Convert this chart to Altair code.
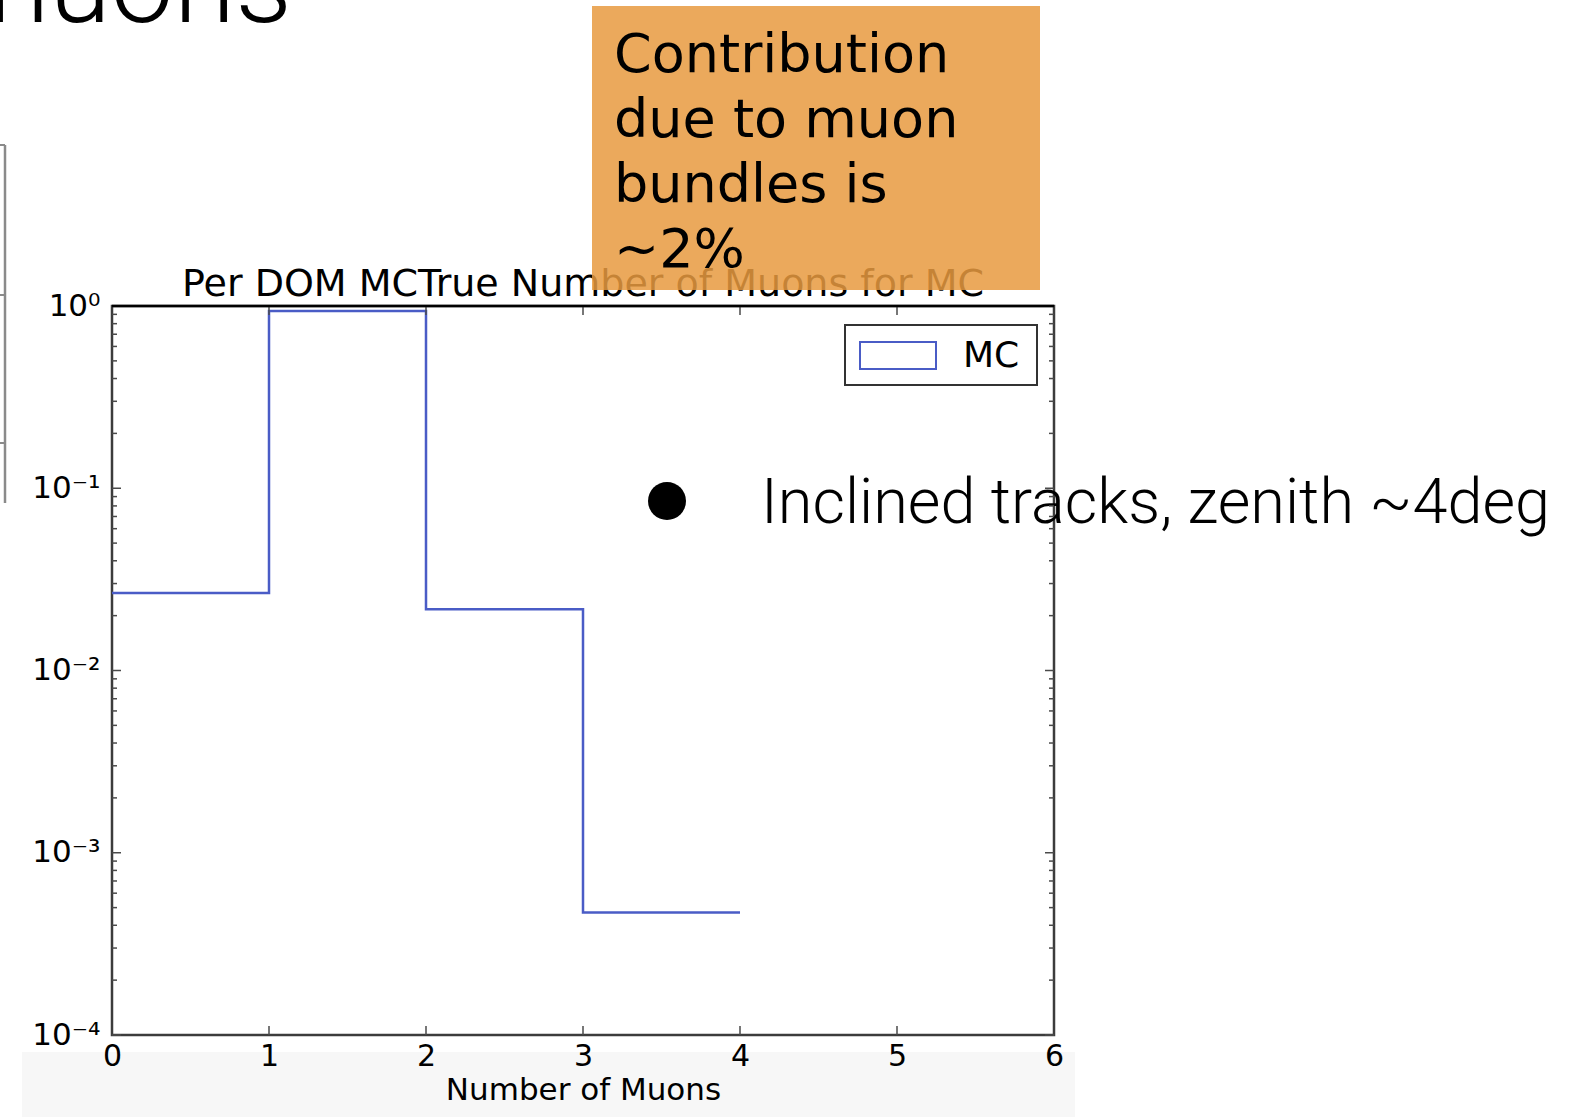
import altair as alt
import pandas as pd

# ---------------- data ----------------
bin_left = [0, 1, 2, 3]
bin_right = [1, 2, 3, 4]
mc_values = [0.0266, 0.94, 0.0217, 0.00047]

x_ticks = [0, 1, 2, 3, 4, 5, 6]
y_major = [1e-4, 1e-3, 1e-2, 1e-1, 1]
y_labels = ["10⁻⁴", "10⁻³", "10⁻²", "10⁻¹", "10⁰"]
minor_mult = [2, 3, 4, 5, 6, 7, 8, 9]
minor_decades = [1e-4, 1e-3, 1e-2, 1e-1]

title_text = "Per DOM MCTrue Number of Muons for MC"
x_title = "Number of Muons"
legend_label = "MC"
box_text = "Contribution\ndue to muon\nbundles is\n~2%"
bullet_text = "Inclined tracks, zenith ~4deg"
slide_title = "muons"

W, H = 942, 729
BLUE = "#4a5cc6"
FONT = "DejaVu Sans"

# step line points built from the bins
step_x = bin_left + [bin_right[-1]]
step_y = mc_values + [mc_values[-1]]
hist_df = pd.DataFrame({"x": step_x, "y": step_y})

minor_vals = [m * d for d in minor_decades for m in minor_mult]
major_df = pd.DataFrame({"y": y_major})
minor_df = pd.DataFrame({"y": minor_vals})
xt_df = pd.DataFrame({"x": x_ticks[1:-1]})

label_expr = " : ".join(
    f"datum.value >= {v * 0.5} ? '{l}'" for v, l in zip(reversed(y_major), reversed(y_labels))
) + " : ''"

one = pd.DataFrame({"t": [""]})

xscale = alt.Scale(domain=[0, 6], nice=False, zero=False)
yscale = alt.Scale(type="log", domain=[1e-4, 1], nice=False)

x_axis = alt.Axis(values=x_ticks, format="d", ticks=False, domain=False,
                  grid=False, labelFont=FONT, labelFontSize=30,
                  labelColor="black", labelPadding=6, labelFlush=False,
                  labelOverlap=False, title=x_title, titleFont=FONT,
                  titleFontSize=31, titleFontWeight="normal",
                  titleColor="black", titlePadding=4, zindex=1)
y_axis = alt.Axis(values=y_major, labelExpr=label_expr, ticks=False,
                  domain=False, grid=False, labelFont=FONT,
                  labelFontSize=31, labelColor="black", labelPadding=12,
                  labelFlush=False, labelOverlap=False,
                  labelBaseline="middle", title=None, zindex=1)


def X():
    return alt.X("x:Q", scale=xscale, axis=x_axis)


def Y():
    return alt.Y("y:Q", scale=yscale, axis=y_axis)


def txt(text, x, y, **kw):
    return alt.Chart(pd.DataFrame({"t": [text]})).mark_text(**kw).encode(
        x=alt.value(x), y=alt.value(y), text="t:N"
    )


def rect(x, x2, y, y2, **kw):
    return alt.Chart(one).mark_rect(**kw).encode(
        x=alt.value(x), x2=alt.value(x2), y=alt.value(y), y2=alt.value(y2)
    )


def vrule(x, y, y2, **kw):
    return alt.Chart(one).mark_rule(**kw).encode(
        x=alt.value(x), y=alt.value(y), y2=alt.value(y2)
    )


def hrule(x, x2, y, **kw):
    return alt.Chart(one).mark_rule(**kw).encode(
        x=alt.value(x), x2=alt.value(x2), y=alt.value(y)
    )


# background band at the bottom
band = rect(-90, 963, 746, 811, fill="#f7f7f7")

# partial frame of another plot on the far left
left_frame = alt.layer(
    vrule(-107, -161, 197, color="#8a8a8a", strokeWidth=2.5),
    hrule(-112, -107, -161, color="#8a8a8a", strokeWidth=2),
    hrule(-112, -107, -11, color="#8a8a8a", strokeWidth=2),
    hrule(-112, -107, 137, color="#8a8a8a", strokeWidth=2),
)

big_title = txt(slide_title, 180, -284, align="right", baseline="alphabetic",
                font="Roboto", fontSize=112, fontWeight=300, color="black")

plot_title = txt(title_text, W / 2, -10, align="center", baseline="alphabetic",
                 font=FONT, fontSize=38, color="black")

orange = rect(480, 928, -300, -16, fill="#e79a3f", opacity=0.85)
orange_txt = txt(box_text, 502, -234, align="left", baseline="alphabetic",
                 font=FONT, fontSize=54, color="black", lineBreak="\n", lineHeight=65)

bullet = alt.Chart(one).mark_point(shape="circle", filled=True, color="black",
                                   opacity=1, size=1444).encode(
    x=alt.value(555), y=alt.value(195))
bullet_t = txt(bullet_text, 649, 217, align="left", baseline="alphabetic",
               font="Roboto", fontSize=63, fontWeight=300, color="black")

hist = alt.Chart(hist_df).mark_line(interpolate="step-after", color=BLUE,
                                    strokeWidth=2.5).encode(x=X(), y=Y())

TICK = "#4a4a4a"


def ytick(df, x, x2):
    return alt.Chart(df).mark_rule(color=TICK, strokeWidth=1.5).encode(
        y=Y(), x=alt.value(x), x2=alt.value(x2))


def xtick(y, y2):
    return alt.Chart(xt_df).mark_rule(color=TICK, strokeWidth=1.5).encode(
        x=X(), y=alt.value(y), y2=alt.value(y2))


ticks = alt.layer(
    ytick(major_df, 0, 9), ytick(minor_df, 0, 5),
    ytick(major_df, W - 9, W), ytick(minor_df, W - 5, W),
    xtick(H - 9, H), xtick(0, 9),
)

top_edge = hrule(0, W, 0, color="black", strokeWidth=2.5)

legend = alt.layer(
    rect(733, 925, 19, 79, fill="white", stroke="#333333", strokeWidth=2),
    rect(748, 824, 36, 63, fill="white", stroke=BLUE, strokeWidth=2),
    txt(legend_label, 851, 50, align="left", baseline="middle",
        font=FONT, fontSize=36, color="black"),
)

chart = alt.layer(
    band, left_frame, big_title, plot_title, orange, orange_txt,
    bullet, bullet_t, hist, ticks, top_edge, legend,
).properties(
    width=W, height=H,
    padding={"left": 112, "top": 306, "right": 515, "bottom": 82},
    autosize=alt.AutoSizeParams(type="none"),
    background="white",
).configure_view(stroke="#3c3c3c", strokeWidth=2.5)

chart.save("out.html", embed_options={"renderer": "svg", "actions": False})
